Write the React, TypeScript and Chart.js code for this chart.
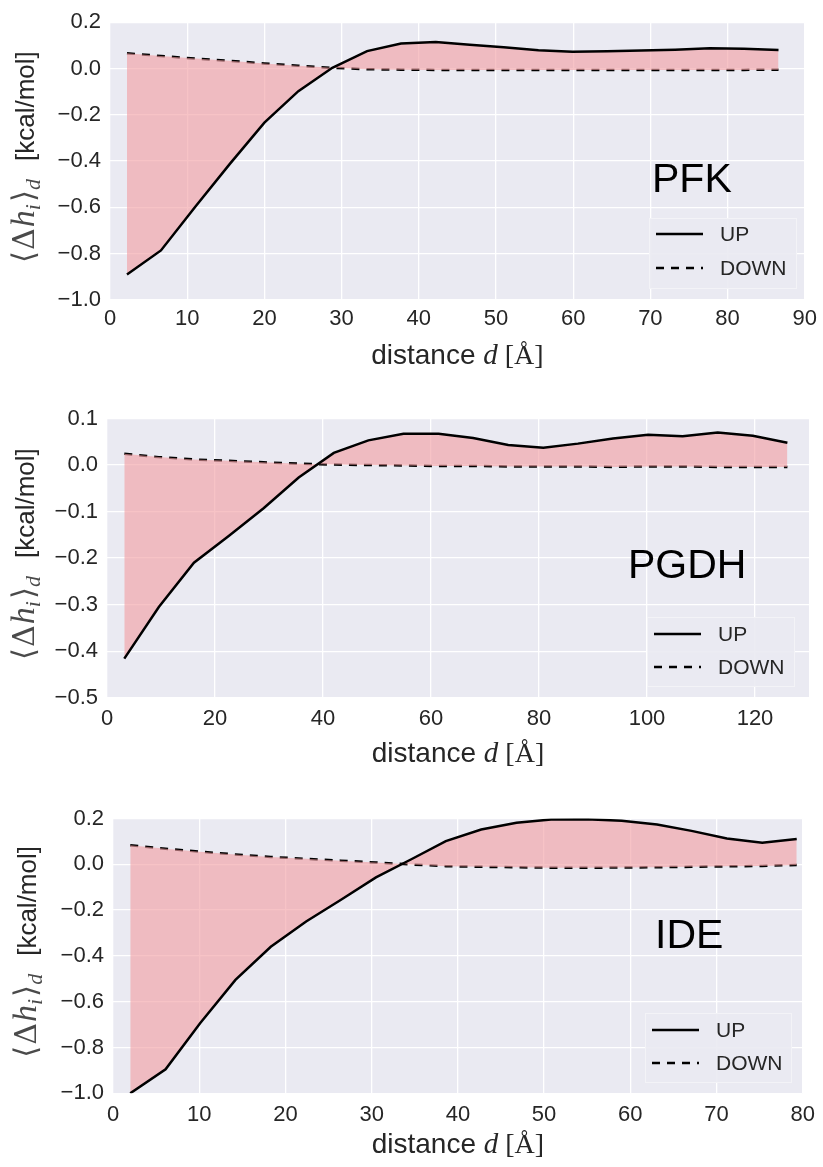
import React, { useEffect, useRef } from "react";
import { Chart, registerables } from "chart.js";
Chart.register(...registerables);

// ---------- data ----------
const pfkDistance = [2.2, 6.6, 11.1, 15.5, 20.0, 24.4, 28.8, 33.3, 37.7, 42.2, 46.6, 51.0, 55.5, 59.9, 64.4, 68.8, 73.2, 77.7, 82.1, 86.6];
const pfkUp = [-0.89, -0.786, -0.595, -0.413, -0.234, -0.098, 0.003, 0.075, 0.108, 0.114, 0.103, 0.092, 0.079, 0.072, 0.075, 0.078, 0.081, 0.087, 0.085, 0.080];
const pfkDown = [0.066, 0.054, 0.043, 0.033, 0.022, 0.012, 0.003, -0.003, -0.005, -0.006, -0.006, -0.006, -0.006, -0.006, -0.006, -0.006, -0.006, -0.006, -0.006, -0.005];

const pgdhDistance = [3.2, 9.6, 16.1, 22.6, 29.0, 35.5, 42.0, 48.4, 54.9, 61.4, 67.8, 74.3, 80.8, 87.2, 93.7, 100.2, 106.6, 113.1, 119.6, 126.0];
const pgdhUp = [-0.416, -0.305, -0.21, -0.152, -0.093, -0.027, 0.026, 0.053, 0.067, 0.067, 0.058, 0.043, 0.037, 0.046, 0.057, 0.065, 0.062, 0.070, 0.063, 0.048];
const pgdhDown = [0.024, 0.017, 0.012, 0.009, 0.006, 0.003, 0.001, 0.0, -0.001, -0.002, -0.002, -0.003, -0.003, -0.003, -0.004, -0.003, -0.003, -0.004, -0.004, -0.004];

const ideDistance = [2.0, 6.1, 10.1, 14.2, 18.3, 22.4, 26.4, 30.5, 34.6, 38.6, 42.7, 46.8, 50.8, 54.9, 59.0, 63.1, 67.1, 71.2, 75.3, 79.3];
const ideUp = [-1.0, -0.895, -0.694, -0.505, -0.36, -0.25, -0.156, -0.057, 0.022, 0.101, 0.152, 0.181, 0.196, 0.197, 0.19, 0.174, 0.146, 0.113, 0.094, 0.11];
const ideDown = [0.083, 0.068, 0.055, 0.043, 0.032, 0.024, 0.016, 0.008, -0.001, -0.008, -0.011, -0.013, -0.015, -0.015, -0.014, -0.013, -0.011, -0.009, -0.007, -0.003];

const seriesNames = ["UP", "DOWN"];
const panelNames = ["PFK", "PGDH", "IDE"];
const xTitleText = "distance ";
const yTitleUnit = "[kcal/mol]";

// ---------- layout ----------
const panels = [
  {
    name: panelNames[0], x: pfkDistance, up: pfkUp, down: pfkDown,
    top: 0, height: 380, plotLeft: 110, plotRight: 808, plotTop: 21, plotBottom: 300,
    xMin: 0, xMax: 90, xStep: 10, yMin: -1.0, yMax: 0.2, yStep: 0.2,
    tickPadX: 6, labelX: 652, labelY: 192, legend: { x: 649, y: 218, w: 148, h: 71, r1: 234, r2: 268 },
    xTitleY: 364, yTitleX: 34,
  },
  {
    name: panelNames[1], x: pgdhDistance, up: pgdhUp, down: pgdhDown,
    top: 380, height: 390, plotLeft: 107, plotRight: 809, plotTop: 38.5, plotBottom: 317.7,
    xMin: 0, xMax: 130, xStep: 20, yMin: -0.5, yMax: 0.1, yStep: 0.1,
    tickPadX: 8, labelX: 628, labelY: 198, legend: { x: 647, y: 237, w: 148, h: 70, r1: 254, r2: 287 },
    xTitleY: 382, yTitleX: 34,
  },
  {
    name: panelNames[2], x: ideDistance, up: ideUp, down: ideDown,
    top: 770, height: 397, plotLeft: 113, plotRight: 804, plotTop: 48.5, plotBottom: 323.3,
    xMin: 0, xMax: 80, xStep: 10, yMin: -1.0, yMax: 0.2, yStep: 0.2,
    tickPadX: 8, labelX: 655, labelY: 178, legend: { x: 645, y: 243, w: 147, h: 70, r1: 260, r2: 293 },
    xTitleY: 383, yTitleX: 36,
  },
];

const BG = "#EAEAF2";
const TEXT = "#262626";
const MATHC = "#4a4a4a";
const SANS = "'Liberation Sans', Arial, sans-serif";
const SERIF = "'Liberation Serif', 'DejaVu Serif', serif";
const MATHSYM = "'DejaVu Serif', 'DejaVu Sans', serif";
const DASH = [8, 7];
const LW = 2.5;

function Panel({ p }: { p: any }) {
  const ref = useRef<HTMLCanvasElement | null>(null);
  useEffect(() => {
    if (!ref.current) return;
    const W = 823;
    const upData = p.x.map((d: number, i: number) => ({ x: d, y: p.up[i] }));
    const downData = p.x.map((d: number, i: number) => ({ x: d, y: p.down[i] }));

    const bgPlugin = {
      id: "bg",
      beforeDraw(chart: any) {
        const { ctx, chartArea: a } = chart;
        ctx.save();
        ctx.fillStyle = BG;
        ctx.fillRect(a.left, a.top, a.right - a.left, a.bottom - a.top);
        ctx.restore();
      },
    };

    const decoPlugin = {
      id: "deco",
      afterDraw(chart: any) {
        const { ctx, chartArea: a } = chart;
        ctx.save();
        // panel label
        ctx.fillStyle = "#000";
        ctx.font = `41px ${SANS}`;
        ctx.textBaseline = "alphabetic";
        ctx.textAlign = "left";
        ctx.fillText(p.name, p.labelX, p.labelY);

        // legend
        const L = p.legend;
        ctx.fillStyle = "rgba(234,234,242,0.9)";
        ctx.fillRect(L.x, L.y, L.w, L.h);
        ctx.strokeStyle = "#f3f3f7";
        ctx.lineWidth = 1;
        ctx.strokeRect(L.x + 0.5, L.y + 0.5, L.w - 1, L.h - 1);
        ctx.strokeStyle = "#000";
        ctx.lineWidth = LW;
        ctx.setLineDash([]);
        ctx.beginPath();
        ctx.moveTo(L.x + 7, L.r1);
        ctx.lineTo(L.x + 54, L.r1);
        ctx.stroke();
        ctx.setLineDash(DASH);
        ctx.beginPath();
        ctx.moveTo(L.x + 7, L.r2);
        ctx.lineTo(L.x + 54, L.r2);
        ctx.stroke();
        ctx.setLineDash([]);
        ctx.fillStyle = TEXT;
        ctx.font = `21px ${SANS}`;
        ctx.textBaseline = "middle";
        ctx.fillText(chart.data.datasets[0].label, L.x + 71, L.r1 + 1);
        ctx.fillText(chart.data.datasets[1].label, L.x + 71, L.r2 + 1);

        // x title
        const segX = [
          { t: xTitleText, f: `28px ${SANS}` },
          { t: "d", f: `italic 29px ${SERIF}` },
          { t: " [Å]", f: `28px ${SERIF}` },
        ];
        let total = 0;
        segX.forEach((s) => { ctx.font = s.f; total += ctx.measureText(s.t).width; });
        let cx = (a.left + a.right) / 2 - total / 2;
        ctx.textBaseline = "alphabetic";
        ctx.fillStyle = TEXT;
        segX.forEach((s) => {
          ctx.font = s.f;
          ctx.fillText(s.t, cx, p.xTitleY);
          cx += ctx.measureText(s.t).width;
        });

        // y title
        const segY = [
          { t: "⟨", f: `31px ${MATHSYM}`, dy: 0, c: MATHC, gap: 1 },
          { t: "Δ", f: `30px ${MATHSYM}`, dy: 0, c: MATHC, gap: 1 },
          { t: "h", f: `italic 34px ${SERIF}`, dy: 0, c: MATHC, gap: 0 },
          { t: "i", f: `italic 22px ${SERIF}`, dy: 6, c: MATHC, gap: 2 },
          { t: "⟩", f: `31px ${MATHSYM}`, dy: 0, c: MATHC, gap: 0 },
          { t: "d", f: `italic 22px ${SERIF}`, dy: 6, c: MATHC, gap: 18 },
          { t: yTitleUnit, f: `26px ${SANS}`, dy: 0, c: TEXT, gap: 0 },
        ];
        let totalY = 0;
        segY.forEach((s) => { ctx.font = s.f; totalY += ctx.measureText(s.t).width + s.gap; });
        ctx.translate(p.yTitleX, (a.top + a.bottom) / 2 - 4);
        ctx.rotate(-Math.PI / 2);
        let cy = -totalY / 2;
        segY.forEach((s) => {
          ctx.font = s.f;
          ctx.fillStyle = s.c;
          ctx.fillText(s.t, cy, s.dy);
          cy += ctx.measureText(s.t).width + s.gap;
        });
        ctx.restore();
      },
    };

    const makeTicks = (min: number, max: number, step: number) => (scale: any) => {
      const out: any[] = [];
      const n = Math.floor((max - min) / step + 1e-6);
      for (let k = 0; k <= n; k++) {
        out.push({ value: Math.round((min + k * step) * 1e6) / 1e6 });
      }
      scale.ticks = out;
    };

    const chart = new Chart(ref.current, {
      type: "line",
      data: {
        datasets: [
          {
            label: seriesNames[0],
            data: upData,
            borderColor: "#000",
            borderWidth: LW,
            pointRadius: 0,
            tension: 0,
            fill: "+1",
            backgroundColor: "rgba(242,158,163,0.62)",
          },
          {
            label: seriesNames[1],
            data: downData,
            borderColor: "#000",
            borderWidth: LW,
            borderDash: DASH,
            pointRadius: 0,
            tension: 0,
            fill: false,
          },
        ],
      },
      options: {
        animation: false,
        responsive: false,
        maintainAspectRatio: false,
        devicePixelRatio: 1,
        events: [],
        layout: { padding: { left: 0, right: W - p.plotRight, top: p.plotTop, bottom: 0 } },
        plugins: { legend: { display: false }, tooltip: { enabled: false } },
        scales: {
          x: {
            type: "linear",
            min: p.xMin,
            max: p.xMax,
            border: { display: false },
            grid: { color: "#ffffff", lineWidth: 1.3, drawTicks: false },
            ticks: {
              stepSize: p.xStep,
              autoSkip: false,
              maxRotation: 0,
              padding: p.tickPadX,
              color: TEXT,
              font: { family: SANS, size: 22 },
              callback: (v: any) => String(Math.round(Number(v))),
            },
            afterBuildTicks: makeTicks(p.xMin, p.xMax, p.xStep),
            afterFit: (s: any) => { s.height = p.height - p.plotBottom; },
          },
          y: {
            type: "linear",
            min: p.yMin,
            max: p.yMax,
            border: { display: false },
            grid: { color: "#ffffff", lineWidth: 1.3, drawTicks: false },
            ticks: {
              stepSize: p.yStep,
              autoSkip: false,
              padding: 9,
              color: TEXT,
              font: { family: SANS, size: 22 },
              callback: (v: any) => {
                const n = Math.round(Number(v) * 10) / 10;
                const s = (Math.abs(n) < 1e-9 ? 0 : n).toFixed(1);
                return s.replace("-", "\u2212");
              },
            },
            afterBuildTicks: makeTicks(p.yMin, p.yMax, p.yStep),
            afterFit: (s: any) => { s.width = p.plotLeft; },
          },
        },
      },
      plugins: [bgPlugin, decoPlugin],
    } as any);
    return () => chart.destroy();
  }, []);
  return (
    <div style={{ position: "absolute", left: 0, top: p.top, width: 823, height: p.height }}>
      <canvas ref={ref} width={823} height={p.height} style={{ display: "block", width: 823, height: p.height }} />
    </div>
  );
}

export default function App() {
  return (
    <div style={{ position: "absolute", left: 0, top: 0, width: 823, height: 1167, background: "#fff", overflow: "hidden" }}>
      {panels.map((p) => (
        <Panel key={p.name} p={p} />
      ))}
    </div>
  );
}
